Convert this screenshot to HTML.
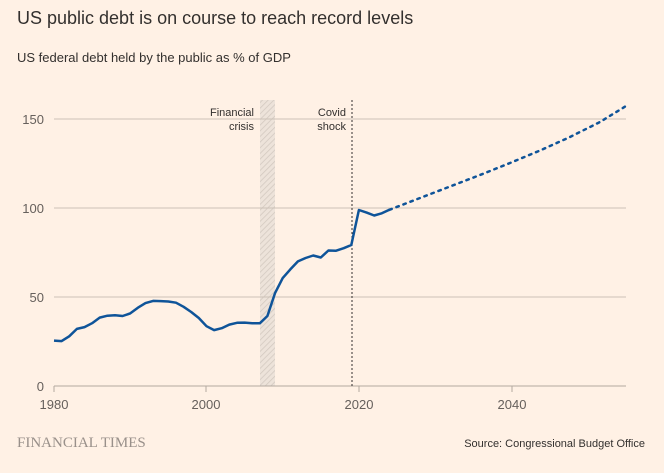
<!DOCTYPE html>
<html><head><meta charset="utf-8"><style>
html,body{margin:0;padding:0;background:#fff1e5;}
body{width:664px;height:468px;overflow:hidden;font-family:"Liberation Sans",sans-serif;}
</style></head><body>
<svg width="664" height="468" xmlns="http://www.w3.org/2000/svg" font-family="Liberation Sans, sans-serif">
<defs><pattern id="h" width="4" height="4" patternUnits="userSpaceOnUse" patternTransform="rotate(45)"><rect width="4" height="4" fill="#ede3da"/><line x1="0" y1="0" x2="0" y2="4" stroke="#d2c8bf" stroke-width="1.5"/></pattern></defs>
<text x="17" y="24" font-size="18" fill="#33302e">US public debt is on course to reach record levels</text>
<text x="17" y="62" font-size="13" fill="#33302e">US federal debt held by the public as % of GDP</text>
<rect x="260" y="100" width="15" height="286" fill="url(#h)"/>
<g stroke="#ccc1b7" stroke-width="1">
<line x1="54" y1="119" x2="626" y2="119"/><line x1="54" y1="208" x2="626" y2="208"/><line x1="54" y1="297" x2="626" y2="297"/>
</g>
<line x1="54" y1="386" x2="626" y2="386" stroke="#b3a9a0"/>
<g stroke="#b3a9a0"><line x1="54" y1="386" x2="54" y2="392"/><line x1="206" y1="386" x2="206" y2="392"/><line x1="359" y1="386" x2="359" y2="392"/><line x1="512" y1="386" x2="512" y2="392"/></g>
<line x1="352" y1="100" x2="352" y2="386" stroke="#33302e" stroke-width="1" stroke-dasharray="2,2"/>
<g font-size="13" fill="#66605c" text-anchor="end">
<text x="44" y="124">150</text><text x="44" y="213">100</text><text x="44" y="302">50</text><text x="44" y="391">0</text></g>
<g font-size="13" fill="#66605c" text-anchor="middle">
<text x="54" y="409">1980</text><text x="206" y="409">2000</text><text x="359" y="409">2020</text><text x="512" y="409">2040</text></g>
<g font-size="11" fill="#33302e" text-anchor="end">
<text x="254" y="116">Financial</text><text x="254" y="130">crisis</text>
<text x="346" y="116">Covid</text><text x="346" y="130">shock</text></g>
<polyline fill="none" stroke="#0f5499" stroke-width="2.5" stroke-linejoin="round" points="54.0,340.6 61.6,341.1 69.2,336.3 76.9,328.9 84.5,327.1 92.1,323.2 99.7,317.6 107.4,315.7 115.0,315.2 122.6,316.0 130.2,313.4 137.9,307.7 145.5,303.1 153.1,300.9 160.7,301.1 168.3,301.5 176.0,302.7 183.6,306.8 191.2,312.0 198.8,318.0 206.5,326.2 214.1,330.1 221.7,328.2 229.3,324.6 237.0,322.8 244.6,322.6 252.2,323.2 259.8,323.3 267.4,316.0 275.1,292.9 282.7,278.1 290.3,269.4 297.9,261.4 305.6,258.0 313.2,255.5 320.8,257.5 328.4,250.5 336.1,250.7 343.7,248.2 351.3,245.0 358.9,210.0 366.6,212.6 374.2,215.5 381.8,213.3 389.4,209.8"/>
<path d="M389.4,209.8 L420,198 L450,186.5 L480,175 L510,163 L540,150.5 L570,137 L600,122 L626,106" fill="none" stroke="#0f5499" stroke-width="2.5" stroke-dasharray="2.5,5" stroke-linecap="round"/>
<text x="17" y="447" font-size="15" font-family="Liberation Serif, serif" fill="#99908a">FINANCIAL TIMES</text>
<text x="645" y="447" font-size="11" fill="#33302e" text-anchor="end">Source: Congressional Budget Office</text>
</svg>
</body></html>
